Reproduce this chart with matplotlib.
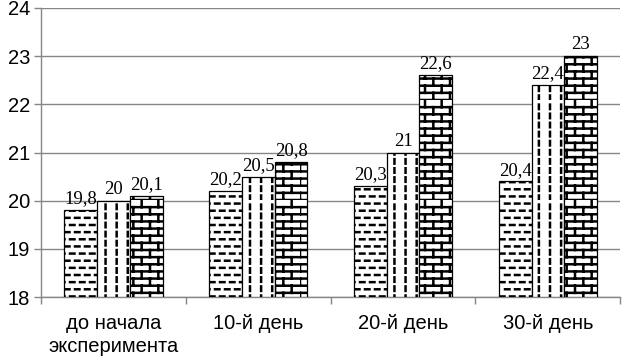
import warnings
import numpy as np
import matplotlib
matplotlib.use("Agg")
import matplotlib.pyplot as plt
import matplotlib.hatch as mhatch
from matplotlib.path import Path

warnings.filterwarnings("ignore")

categories = ["до начала\nэксперимента", "10-й день", "20-й день", "30-й день"]
series_1 = [19.8, 20.2, 20.3, 20.4]
series_2 = [20.0, 20.5, 21.0, 22.4]
series_3 = [20.1, 20.8, 22.6, 23.0]
value_labels = [
    ["19,8", "20,2", "20,3", "20,4"],
    ["20", "20,5", "21", "22,4"],
    ["20,1", "20,8", "22,6", "23"],
]


# custom hatches: horizontal dashes, vertical dashes, bricks
class DashH(mhatch.HatchPatternBase):
    rows, cols, length = 14, 10, 0.045

    def __init__(self, hatch, density):
        self.n = self.rows * self.cols if "d" in hatch else 0
        self.num_vertices = self.n * 2

    def set_vertices_and_codes(self, vertices, codes):
        i = 0
        for r in range(self.rows):
            y = (r + 0.5) / self.rows
            for c in range(self.cols):
                x = (c + 0.5 * (r % 2)) / self.cols
                vertices[i] = (x, y)
                vertices[i + 1] = (x + self.length, y)
                codes[i], codes[i + 1] = Path.MOVETO, Path.LINETO
                i += 2


class DashV(mhatch.HatchPatternBase):
    rows, cols, length = 11, 9, 0.045

    def __init__(self, hatch, density):
        self.n = self.rows * self.cols if "v" in hatch else 0
        self.num_vertices = self.n * 2

    def set_vertices_and_codes(self, vertices, codes):
        i = 0
        for c in range(self.cols):
            x = (c + 0.5) / self.cols
            for r in range(self.rows):
                y = r / self.rows
                vertices[i] = (x, y)
                vertices[i + 1] = (x, y + self.length)
                codes[i], codes[i + 1] = Path.MOVETO, Path.LINETO
                i += 2


class Bricks(mhatch.HatchPatternBase):
    rows, cols = 14, 6

    def __init__(self, hatch, density):
        self.on = "b" in hatch
        self.num_vertices = (self.rows + self.rows * self.cols) * 2 if self.on else 0

    def set_vertices_and_codes(self, vertices, codes):
        i = 0
        for r in range(self.rows):
            y = r / self.rows
            vertices[i] = (0, y)
            vertices[i + 1] = (1, y)
            codes[i], codes[i + 1] = Path.MOVETO, Path.LINETO
            i += 2
            for c in range(self.cols):
                x = (c + 0.5 * (r % 2)) / self.cols
                vertices[i] = (x, y)
                vertices[i + 1] = (x, y + 1 / self.rows)
                codes[i], codes[i + 1] = Path.MOVETO, Path.LINETO
                i += 2


mhatch._hatch_types.extend([DashH, DashV, Bricks])

plt.rcParams["font.family"] = ["Liberation Sans", "DejaVu Sans"]
plt.rcParams["hatch.linewidth"] = 1.8
plt.rcParams["hatch.color"] = "black"

fig = plt.figure(figsize=(6.24, 3.58), dpi=100)
ax = fig.add_axes([0.066, 0.170, 0.928, 0.808])

x = np.arange(len(categories))
w = 0.226
grey = "#868686"
for k, (vals, hatch) in enumerate(zip([series_1, series_2, series_3], ["d", "v", "b"])):
    pos = x + (k - 1) * w
    bars = ax.bar(pos, np.array(vals) - 18, bottom=18, width=w, color="white",
                  edgecolor="black", linewidth=0.9, hatch=hatch, zorder=3)
    for xi, v, lab in zip(pos, vals, value_labels[k]):
        ax.annotate(lab, (xi, v), xytext=(0, 2), textcoords="offset points",
                    ha="center", va="bottom", fontsize=13.5,
                    family=["Liberation Serif", "DejaVu Serif"], zorder=4)

ax.set_xlim(-0.5, 3.5)
ax.set_ylim(18, 24)
ax.set_yticks(range(18, 25))
ax.set_xticks(x)
ax.set_xticklabels(categories, fontsize=14.5, linespacing=1.25)
ax.set_xticks(np.arange(-0.5, 4, 1), minor=True)
ax.tick_params(axis="x", which="major", length=0, pad=12)
ax.tick_params(axis="x", which="minor", length=5, color=grey, width=1)
ax.tick_params(axis="y", length=5, color=grey, width=1, labelsize=14.5, pad=3)
ax.yaxis.grid(True, color=grey, linewidth=1, zorder=0)
ax.set_axisbelow(True)
for s in ["top", "right"]:
    ax.spines[s].set_visible(False)
for s in ["left", "bottom"]:
    ax.spines[s].set_color(grey)
    ax.spines[s].set_linewidth(1)

fig.savefig("out.png", dpi=100)
